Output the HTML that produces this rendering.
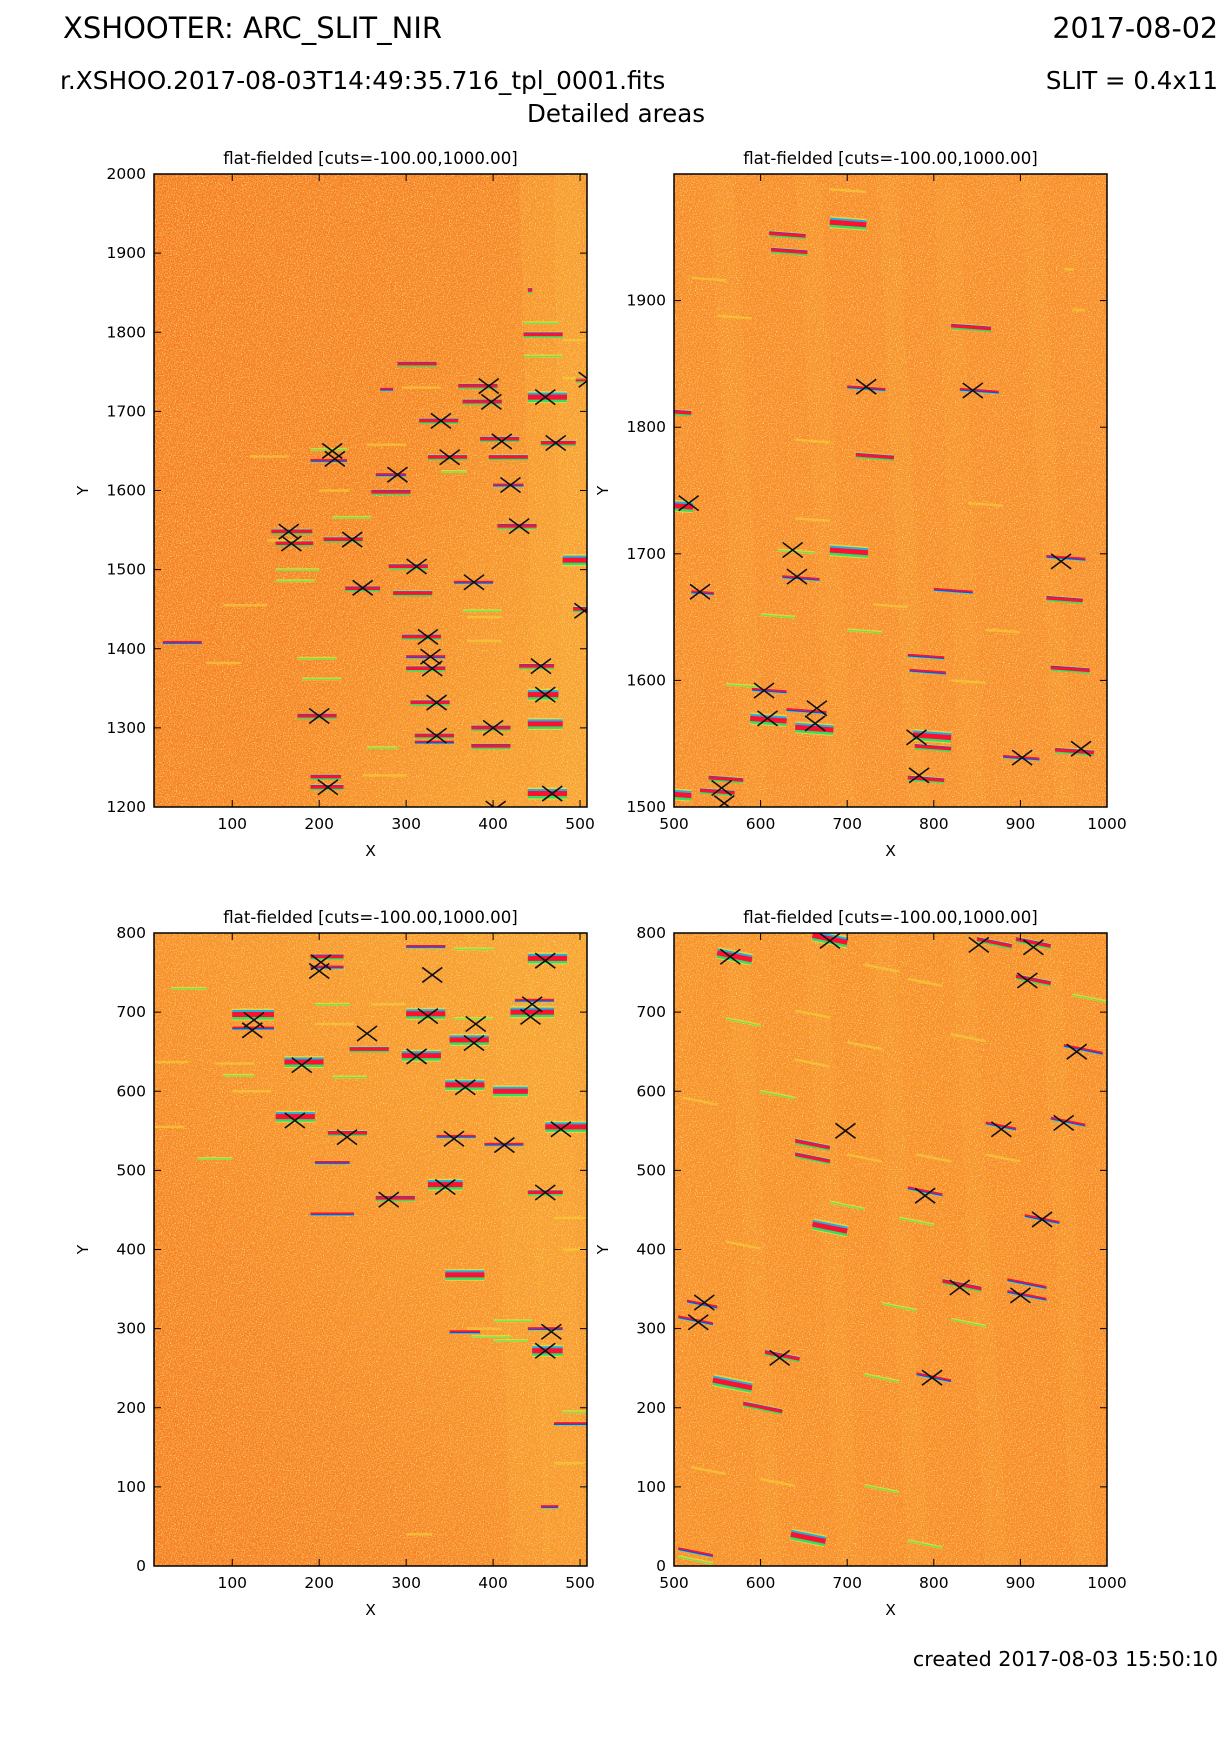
<!DOCTYPE html>
<html><head><meta charset="utf-8">
<style>
html,body{margin:0;padding:0;background:#fff;}
svg{display:block;font-family:"DejaVu Sans","Liberation Sans",sans-serif;}
</style></head>
<body>
<svg id="fig" width="1230" height="1740" viewBox="0 0 1230 1740" xmlns="http://www.w3.org/2000/svg">
<defs>
<filter id="noise" x="0" y="0" width="100%" height="100%">
<feTurbulence type="fractalNoise" baseFrequency="0.85" numOctaves="1" seed="3" result="t"/>
<feColorMatrix in="t" type="matrix" values="0 0 0 0 1  0 0 0 0 0.8  0 0 0 0 0.15  3.5 0 0 0 -1.75" result="yel"/>
<feTurbulence type="fractalNoise" baseFrequency="0.9" numOctaves="1" seed="9" result="t2"/>
<feColorMatrix in="t2" type="matrix" values="0 0 0 0 0.95  0 0 0 0 0.3  0 0 0 0 0.1  4 0 0 0 -1.8" result="red"/>
<feMerge><feMergeNode in="yel"/><feMergeNode in="red"/></feMerge>
</filter>
<linearGradient id="g1" x1="0" y1="0" x2="1" y2="0.6"><stop offset="0" stop-color="#f47818"/><stop offset="0.6" stop-color="#f5821a"/><stop offset="1" stop-color="#f7a024"/></linearGradient>
<linearGradient id="g2" x1="0" y1="0" x2="1" y2="1"><stop offset="0" stop-color="#f78a1e"/><stop offset="1" stop-color="#f78e22"/></linearGradient>
<linearGradient id="g3" x1="1" y1="0" x2="0" y2="1"><stop offset="0" stop-color="#f7ac28"/><stop offset="0.45" stop-color="#f79420"/><stop offset="0.7" stop-color="#f5821a"/><stop offset="1" stop-color="#f47a18"/></linearGradient>
<linearGradient id="g4" x1="0" y1="0" x2="1" y2="1"><stop offset="0" stop-color="#f7921e"/><stop offset="1" stop-color="#f7881c"/></linearGradient>
</defs>

<text x="63" y="38" font-size="29">XSHOOTER: ARC_SLIT_NIR</text>
<text x="1218" y="38" font-size="28.5" text-anchor="end">2017-08-02</text>
<text x="60" y="89" font-size="24.8">r.XSHOO.2017-08-03T14:49:35.716_tpl_0001.fits</text>
<text x="1218" y="89" font-size="24.5" text-anchor="end">SLIT = 0.4x11</text>
<text x="616" y="122" font-size="24.5" text-anchor="middle">Detailed areas</text>
<text x="1218" y="1666" font-size="20.7" text-anchor="end">created 2017-08-03 15:50:10</text>
<g id="panels"></g>
</svg>
<script>
// ---- data ----
// line kinds: R strong saturated, r saturated, b thin saturated/blue edge, g green faint, y yellow faint
const p1XRange = [10, 508];
const p1YRange = [1200, 2000];
const p1XTicks = [100, 200, 300, 400, 500];
const p1YTicks = [1200, 1300, 1400, 1500, 1600, 1700, 1800, 1900, 2000];
const p1MarkX = [215,218,165,168,238,250,290,312,340,350,395,398,410,420,430,378,325,328,330,335,335,200,210,400,455,460,460,472,468,403,505,510];
const p1MarkY = [1650,1640,1548,1533,1538,1477,1620,1504,1688,1642,1732,1712,1662,1607,1555,1484,1415,1390,1375,1332,1290,1315,1225,1300,1378,1342,1718,1660,1217,1198,1448,1740];
const p1Lines = [[190,232,1652,'g'],[190,232,1638,'b'],[145,192,1548,'r'],[150,193,1533,'r'],[205,250,1538,'r'],[230,270,1476,'r'],[265,300,1620,'b'],[260,305,1598,'r'],[280,325,1504,'r'],[315,360,1688,'r'],[325,370,1642,'r'],[290,335,1760,'r'],[360,405,1732,'r'],[365,410,1712,'r'],[385,430,1665,'r'],[395,440,1642,'r'],[400,435,1607,'b'],[405,450,1555,'r'],[355,400,1484,'b'],[285,330,1470,'r'],[295,340,1415,'r'],[300,345,1390,'b'],[300,345,1375,'r'],[305,350,1332,'r'],[310,355,1290,'r'],[310,355,1282,'b'],[175,220,1315,'r'],[190,225,1238,'r'],[190,228,1225,'r'],[375,420,1300,'r'],[375,420,1277,'r'],[430,470,1378,'r'],[440,475,1342,'R'],[440,480,1305,'R'],[440,485,1718,'R'],[435,480,1797,'r'],[435,475,1812,'g'],[435,480,1770,'g'],[455,495,1660,'r'],[440,485,1217,'R'],[480,515,1512,'R'],[20,65,1408,'b'],[495,515,1740,'r'],[492,515,1450,'r'],[270,285,1728,'b'],[440,445,1853,'r'],
[120,165,1643,'y'],[90,140,1455,'y'],[70,110,1382,'y'],[150,200,1500,'g'],[150,195,1486,'g'],[175,220,1388,'g'],[180,225,1362,'g'],[215,260,1566,'g'],[255,290,1275,'g'],[200,235,1600,'y'],[255,300,1658,'y'],[295,340,1730,'y'],[365,410,1448,'g'],[370,410,1440,'y'],[370,410,1410,'y'],[140,180,1537,'y'],[250,300,1240,'y'],[340,370,1624,'g'],[480,510,1790,'y'],[480,510,1742,'y']];

const p2XRange = [500, 1000];
const p2YRange = [1500, 2000];
const p2XTicks = [500, 600, 700, 800, 900, 1000];
const p2YTicks = [1500, 1600, 1700, 1800, 1900];
const p2MarkX = [517,530,555,558,604,608,637,642,665,663,722,780,783,845,902,947,970];
const p2MarkY = [1740,1670,1515,1503,1592,1570,1703,1682,1578,1566,1832,1555,1525,1829,1539,1694,1546];
const p2Lines = [[680,722,1962,'R'],[610,652,1953,'r'],[612,654,1940,'r'],[820,866,1880,'r'],[700,744,1832,'b'],[830,875,1830,'b'],[710,754,1778,'r'],[500,522,1738,'R'],[520,546,1670,'b'],[620,662,1703,'g'],[625,668,1682,'b'],[680,724,1703,'R'],[776,820,1557,'R'],[778,820,1548,'r'],[770,812,1523,'r'],[590,630,1593,'b'],[588,630,1570,'R'],[630,676,1577,'b'],[640,684,1563,'R'],[770,812,1620,'b'],[772,814,1608,'b'],[800,845,1672,'b'],[930,975,1698,'b'],[930,972,1665,'r'],[935,980,1610,'r'],[940,985,1545,'r'],[880,922,1540,'b'],[500,520,1510,'R'],[540,580,1523,'r'],[530,570,1513,'r'],[680,722,1988,'y'],[640,680,1790,'y'],[520,560,1918,'y'],[550,590,1888,'y'],[500,520,1812,'r'],[700,740,1640,'g'],[730,770,1660,'y'],[600,640,1652,'g'],[560,600,1597,'g'],[950,962,1925,'y'],[960,975,1893,'y'],[820,860,1600,'y'],[860,900,1640,'y'],[640,680,1728,'y'],[840,880,1740,'y'],[910,950,1500,'y']];

const p3XRange = [10, 508];
const p3YRange = [0, 800];
const p3XTicks = [100, 200, 300, 400, 500];
const p3YTicks = [0, 100, 200, 300, 400, 500, 600, 700, 800];
const p3MarkX = [202,200,125,123,180,255,172,232,280,325,330,312,380,378,368,355,413,345,460,445,443,478,460,467,460];
const p3MarkY = [763,752,690,677,633,673,563,542,463,695,747,644,685,661,605,540,532,479,765,710,694,552,472,296,272];
const p3Lines = [[190,228,770,'r'],[190,228,757,'b'],[100,148,697,'R'],[100,148,680,'b'],[160,205,637,'R'],[150,195,568,'R'],[210,255,547,'r'],[235,280,653,'r'],[265,310,465,'r'],[300,345,698,'R'],[295,340,645,'R'],[300,345,783,'b'],[355,400,780,'g'],[350,395,665,'R'],[355,400,692,'g'],[345,390,608,'R'],[335,380,543,'b'],[390,435,533,'b'],[325,365,482,'R'],[345,390,368,'R'],[400,440,600,'R'],[440,485,768,'R'],[420,470,700,'R'],[425,470,715,'b'],[460,510,555,'R'],[440,480,472,'r'],[440,480,300,'b'],[445,480,272,'R'],[350,385,296,'b'],[375,420,290,'g'],[190,240,445,'b'],[195,235,510,'b'],[60,100,515,'g'],[10,45,555,'y'],[30,70,730,'g'],[10,50,637,'y'],[80,125,635,'y'],[90,125,620,'g'],[215,255,618,'g'],[195,235,710,'g'],[195,240,685,'y'],[470,510,180,'b'],[480,510,195,'g'],[455,475,75,'b'],[470,505,440,'y'],[480,505,400,'y'],[400,445,310,'g'],[400,440,285,'g'],[100,145,600,'y'],[260,300,710,'y'],[370,410,300,'y'],[300,330,40,'y'],[470,505,130,'y']];

const p4XRange = [500, 1000];
const p4YRange = [0, 800];
const p4XTicks = [500, 600, 700, 800, 900, 1000];
const p4YTicks = [0, 100, 200, 300, 400, 500, 600, 700, 800];
const p4MarkX = [535,528,565,680,698,622,790,798,830,852,878,900,908,915,925,950,965];
const p4MarkY = [333,308,770,790,550,263,468,238,352,785,552,342,740,782,438,560,650];
const p4Lines = [[545,590,235,'R'],[515,550,335,'b'],[505,545,315,'b'],[550,590,775,'R'],[660,700,797,'R'],[640,680,537,'r'],[640,680,520,'r'],[660,700,432,'R'],[605,645,270,'r'],[580,625,205,'r'],[770,810,478,'b'],[780,820,243,'b'],[810,855,360,'r'],[850,890,792,'r'],[860,895,560,'b'],[885,930,362,'b'],[885,930,347,'b'],[895,935,745,'r'],[895,935,792,'r'],[905,945,443,'b'],[935,975,566,'b'],[950,995,658,'b'],[505,545,22,'b'],[505,545,12,'g'],[635,675,40,'R'],[770,810,32,'g'],[720,760,102,'g'],[720,760,242,'g'],[820,860,312,'g'],[740,780,332,'g'],[560,600,692,'g'],[510,550,592,'y'],[640,680,702,'y'],[700,740,662,'y'],[770,810,742,'y'],[820,860,672,'y'],[960,1000,722,'g'],[520,560,125,'y'],[600,640,110,'y'],[560,600,410,'y'],[700,740,520,'y'],[780,820,520,'y'],[860,900,520,'y'],[680,720,460,'g'],[760,800,440,'g'],[640,680,640,'y'],[720,760,760,'y'],[600,640,600,'g']];

// ---- drawing ----
const NS = 'http://www.w3.org/2000/svg';
const panelsG = document.getElementById('panels');
function mk(tag, attrs, parent){ const e=document.createElementNS(NS,tag); for(const k in attrs) e.setAttribute(k,attrs[k]); parent.appendChild(e); return e; }

function drawPanel(id, left, top, xr, yr, xt, yt, mx, my, lines, grad, slope, bands){
  const W=433, H=633;
  const sx = v => left + (v - xr[0]) / (xr[1]-xr[0]) * W;
  const sy = v => top + H - (v - yr[0]) / (yr[1]-yr[0]) * H;
  const g = mk('g', {}, panelsG);
  
  
  const cp = mk('clipPath', {id: id+'-clip'}, g);
  mk('rect', {x:left, y:top, width:W, height:H}, cp);
  const img = mk('g', {'clip-path':'url(#'+id+'-clip)'}, g);
  
  
  mk('rect', {x:left, y:top, width:W, height:H, fill:'url(#'+grad+')'}, img);
  bands.forEach(b=>{
    const x0=sx(b[0]), x1=sx(b[1]);
    const band = mk('polygon', {points:`${x0},${top} ${x0+b[2]},${top} ${x1+b[2]},${top+H} ${x1},${top+H}`, fill:'#f8b02c', opacity:b[3]}, img);
    
    
  });
  mk('rect', {x:left, y:top, width:W, height:H, filter:'url(#noise)', fill:'#000'}, img);
  lines.forEach(l=>{
    const x1=sx(l[0]), x2=sx(l[1]);
    const y1=sy(l[2]), y2=sy(l[2] + slope*(l[1]-l[0]));
    const k=l[3];
    const lg = mk('g', {}, img);
    
    
    const seg=(c,w,dy,op)=>mk('line',{x1:x1,y1:y1+dy,x2:x2,y2:y2+dy,stroke:c,'stroke-width':w,opacity:op||1},lg);
    if(k==='R'){ seg('#e8f048',12,0,0.6); seg('#30e060',8,1,1); seg('#20b0e0',7,-1,1); seg('#ff1030',5,0,1); }
    else if(k==='r'){ seg('#f0e040',6,0,0.5); seg('#30e060',3,1.5,1); seg('#2040e0',2,-1.2,0.9); seg('#ff1030',3,0,1); }
    else if(k==='b'){ seg('#f0e040',4,0,0.4); seg('#30e0b0',2,1,1); seg('#ff1030',2,-0.5,1); seg('#2040e0',1.2,0.8,0.9); }
    else if(k==='g'){ seg('#d8f038',3,0,0.7); seg('#40e060',1.2,0.5,0.7); }
    else { seg('#f4d438',2.5,0,0.6); }
  });
  mx.forEach((v,i)=>{
    const cx=sx(v), cy=sy(my[i]), r=10;
    const m = mk('path', {d:`M${cx-r},${cy-r*0.75}L${cx+r},${cy+r*0.75}M${cx-r},${cy+r*0.75}L${cx+r},${cy-r*0.75}`, stroke:'#111', 'stroke-width':1.6, fill:'none'}, img);
    
    
  });
  const fr = mk('rect', {x:left, y:top, width:W, height:H, fill:'none', stroke:'#000', 'stroke-width':1.5}, g);
  
  
  xt.forEach(v=>{
    const x=sx(v);
    mk('line',{x1:x,y1:top+H,x2:x,y2:top+H-7,stroke:'#000','stroke-width':1},g);
    mk('line',{x1:x,y1:top,x2:x,y2:top+7,stroke:'#000','stroke-width':1},g);
    const t = mk('text',{x:x,y:top+H+22,'font-size':15.5,'text-anchor':'middle'},g);
    t.textContent=v;
    
    
  });
  yt.forEach(v=>{
    const y=sy(v);
    mk('line',{x1:left,y1:y,x2:left+7,y2:y,stroke:'#000','stroke-width':1},g);
    mk('line',{x1:left+W,y1:y,x2:left+W-7,y2:y,stroke:'#000','stroke-width':1},g);
    const t = mk('text',{x:left-8,y:y+5,'font-size':15.5,'text-anchor':'end'},g);
    t.textContent=v;
    
    
  });
  const xl = mk('text',{x:left+W/2,y:top+H+49,'font-size':15.5,'text-anchor':'middle'},g);
  xl.textContent='X';
  
  
  const yl = mk('text',{x:0,y:0,'font-size':15.5,'text-anchor':'middle',transform:`translate(${left-66},${top+H/2}) rotate(-90)`},g);
  yl.textContent='Y';
  
  
  const tt = mk('text',{x:left+W/2,y:top-10,'font-size':16.6,'text-anchor':'middle'},g);
  tt.textContent='flat-fielded [cuts=-100.00,1000.00]';
  
  
}

drawPanel('panel-top-left', 154, 174, p1XRange, p1YRange, p1XTicks, p1YTicks, p1MarkX, p1MarkY, p1Lines, 'g1', 0,
  [[430,450,60,0.35],[470,480,40,0.4]]);
drawPanel('panel-top-right', 674, 174, p2XRange, p2YRange, p2XTicks, p2YTicks, p2MarkX, p2MarkY, p2Lines, 'g2', -0.05,
  [[540,580,25,0.18],[640,680,25,0.18],[735,770,20,0.22],[800,830,25,0.18],[900,940,20,0.18]]);
drawPanel('panel-bottom-left', 154, 933, p3XRange, p3YRange, p3XTicks, p3YTicks, p3MarkX, p3MarkY, p3Lines, 'g3', 0,
  [[400,420,40,0.3],[440,460,40,0.35]]);
drawPanel('panel-bottom-right', 674, 933, p4XRange, p4YRange, p4XTicks, p4YTicks, p4MarkX, p4MarkY, p4Lines, 'g4', -0.22,
  [[560,600,22,0.2],[650,690,22,0.2],[730,770,22,0.2],[820,860,22,0.2],[920,960,22,0.2]]);
</script>
</body></html>
